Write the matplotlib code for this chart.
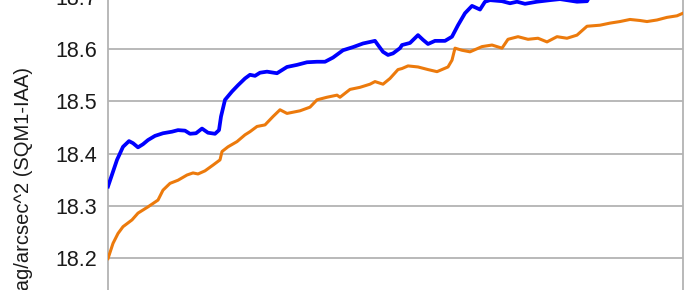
import matplotlib
matplotlib.use("Agg")
import matplotlib.pyplot as plt

plt.rcParams['font.family'] = ['Liberation Sans', 'DejaVu Sans']

# sample position along the run
t_blue = [0, 9, 15, 21, 25, 30, 35, 40, 47, 55, 64, 70, 77, 82, 88, 94, 100,
          107, 111, 113, 117, 124, 130, 137, 142, 147, 152, 159, 169, 179,
          189, 199, 209, 217, 225, 235, 245, 255, 267, 270, 275, 280, 285,
          292, 294, 302, 310, 315, 320, 327, 337, 344, 350, 357, 364, 372,
          377, 382, 394, 402, 409, 417, 429, 442, 452, 469, 479, 484]
blue = [18.337, 18.388, 18.413, 18.424, 18.420, 18.412, 18.418, 18.426,
        18.434, 18.439, 18.442, 18.445, 18.444, 18.438, 18.439, 18.448,
        18.440, 18.438, 18.445, 18.471, 18.503, 18.519, 18.531, 18.544,
        18.551, 18.549, 18.555, 18.557, 18.554, 18.566, 18.570, 18.575,
        18.576, 18.576, 18.584, 18.598, 18.604, 18.611, 18.616, 18.608,
        18.595, 18.589, 18.592, 18.602, 18.608, 18.612, 18.627, 18.618,
        18.610, 18.616, 18.616, 18.624, 18.646, 18.669, 18.683, 18.676,
        18.691, 18.694, 18.692, 18.688, 18.691, 18.687, 18.691, 18.694,
        18.696, 18.691, 18.692, 18.710]

t_orange = [0, 5, 10, 15, 24, 30, 40, 50, 55, 62, 70, 79, 85, 90, 97, 105,
            112, 114, 120, 129, 137, 142, 149, 157, 165, 172, 179, 192, 202,
            209, 219, 229, 232, 242, 252, 262, 267, 275, 282, 290, 294, 300,
            310, 320, 329, 340, 344, 347, 354, 362, 374, 384, 394, 400, 410,
            420, 430, 439, 449, 459, 469, 479, 492, 502, 512, 522, 532, 539,
            549, 559, 569, 575]
orange = [18.199, 18.228, 18.247, 18.260, 18.273, 18.286, 18.298, 18.311,
          18.330, 18.343, 18.349, 18.359, 18.363, 18.361, 18.367, 18.378,
          18.388, 18.404, 18.413, 18.423, 18.436, 18.442, 18.452, 18.455,
          18.471, 18.484, 18.477, 18.482, 18.489, 18.503, 18.508, 18.512,
          18.508, 18.523, 18.527, 18.533, 18.538, 18.533, 18.544, 18.561,
          18.563, 18.568, 18.566, 18.561, 18.557, 18.566, 18.579, 18.602,
          18.598, 18.595, 18.605, 18.608, 18.602, 18.619, 18.624, 18.619,
          18.621, 18.614, 18.624, 18.621, 18.627, 18.644, 18.646, 18.650,
          18.653, 18.657, 18.655, 18.653, 18.656, 18.661, 18.664, 18.669]

yticks = [18.0, 18.1, 18.2, 18.3, 18.4, 18.5, 18.6, 18.7, 18.8]

fig = plt.figure(figsize=(7, 2.9), dpi=100)
# the picture is a crop of a taller chart, so the axes run past the figure
ax = fig.add_axes([108 / 700, -0.2497, 575 / 700, 1.44])

ax.plot(t_orange, orange, color='#ec7a0c', lw=2.2, zorder=3,
        solid_joinstyle='round')
ax.plot(t_blue, blue, color='#0000ff', lw=2.7, zorder=4,
        solid_joinstyle='round')

ax.set_xlim(0, 575)
ax.set_ylim(18.0, 18.8)
ax.set_yticks(yticks)
ax.set_yticklabels([f"{v:.1f}" for v in yticks])
ax.set_xticks([])
ax.tick_params(axis='y', length=0, pad=8, labelsize=15.5, labelcolor='#1a1a1a')
ax.grid(axis='y', color='#b3b3b3', lw=1.3)
for s in ['top', 'bottom']:
    ax.spines[s].set_visible(False)
for s in ['left', 'right']:
    ax.spines[s].set_color('#b3b3b3')
    ax.spines[s].set_linewidth(1.3)

fig.text(24 / 700, (290 - 67) / 290, "mag/arcsec^2 (SQM1-IAA)", rotation=90,
         ha='center', va='top', fontsize=14.5, color='#1a1a1a')

fig.savefig('out.png', dpi=100)
